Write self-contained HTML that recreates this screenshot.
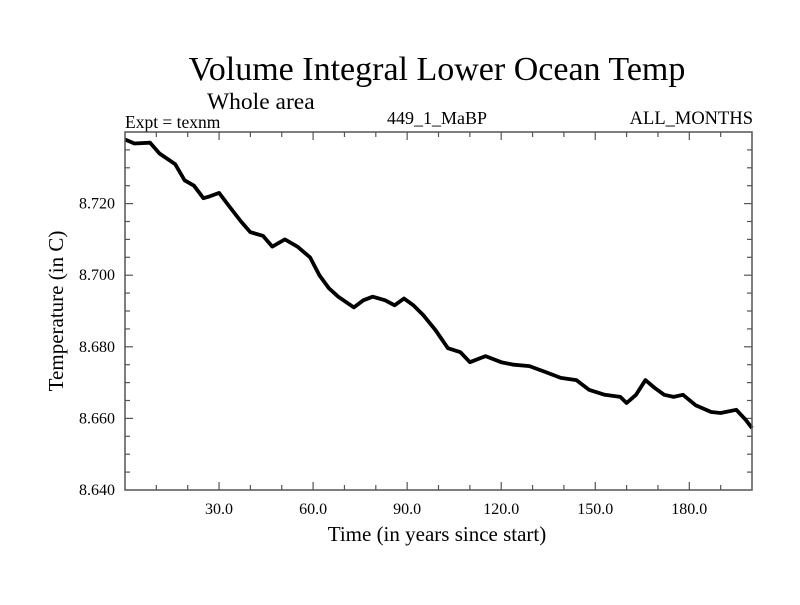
<!DOCTYPE html>
<html><head><meta charset="utf-8"><style>
body{margin:0;background:#fff}
svg text{font-family:"Liberation Serif",serif;fill:#000}
</style></head><body>
<svg id="chart" width="800" height="600">
<text x="437" y="80" font-size="34" text-anchor="middle">Volume Integral Lower Ocean Temp</text>
<text x="207" y="109" font-size="23.5">Whole area</text>
<text x="125" y="128" font-size="17.5">Expt = texnm</text>
<text x="437" y="124" font-size="18" text-anchor="middle">449_1_MaBP</text>
<text x="753" y="124" font-size="18.5" text-anchor="end">ALL_MONTHS</text>
<text x="437" y="541" font-size="21" text-anchor="middle">Time (in years since start)</text>
<text transform="translate(63,311) rotate(-90)" font-size="21" text-anchor="middle">Temperature (in C)</text>
<g id="axes"></g>
<path id="series" fill="none" stroke="#000" stroke-width="3.8" stroke-linejoin="round"/>
<rect x="125" y="132" width="627" height="358" fill="none" stroke="#555" stroke-width="1.5"/>
</svg>
<script>
const years=[0,3,8,11,16,19,22,25,27,30,33,37,40,44,47,51,55,59,62,65,68,73,76,79,83,86,89,92,95,99,103,107,110,115,120,124,129,134,139,144,148,153,158,160,163,166,169,172,175,178,182,187,190,195,198,200];
const temps=[8.7379,8.7368,8.737,8.734,8.731,8.7265,8.725,8.7215,8.722,8.723,8.7195,8.715,8.712,8.711,8.708,8.710,8.708,8.705,8.700,8.6964,8.694,8.691,8.693,8.694,8.693,8.6916,8.6935,8.6916,8.689,8.6847,8.6796,8.6785,8.6757,8.6774,8.6757,8.675,8.6746,8.673,8.6713,8.6707,8.668,8.6666,8.666,8.6643,8.6666,8.6707,8.6685,8.6666,8.666,8.6666,8.6637,8.6618,8.6615,8.6624,8.6596,8.6573];
const xTicks=[30,60,90,120,150,180];
const xTickLabels=["30.0","60.0","90.0","120.0","150.0","180.0"];
const yTicks=[8.64,8.66,8.68,8.70,8.72];
const yTickLabels=["8.640","8.660","8.680","8.700","8.720"];
const X0=125,X1=752,Y0=490,Y1=132,XMIN=0,XMAX=200,YMIN=8.64,YMAX=8.74;
const sx=v=>X0+(v-XMIN)/(XMAX-XMIN)*(X1-X0);
const sy=v=>Y0-(v-YMIN)/(YMAX-YMIN)*(Y0-Y1);
const NS="http://www.w3.org/2000/svg";
const g=document.getElementById('axes');
function mk(t,a){const e=document.createElementNS(NS,t);for(const k in a)e.setAttribute(k,a[k]);g.appendChild(e);return e;}
for(let v=10;v<200;v+=10){const x=sx(v);const major=v%30===0;
 const t=mk('line',{x1:x,x2:x,y1:Y0,y2:Y0-(major?8:5),stroke:'#555','stroke-width':1.2});
 
 
 const t2=mk('line',{x1:x,x2:x,y1:Y1,y2:Y1+(major?8:5),stroke:'#555','stroke-width':1.2});
 
 }
xTicks.forEach((v,i)=>{const e=mk('text',{x:sx(v),y:514,'font-size':16,'text-anchor':'middle'});e.textContent=xTickLabels[i];
 
 });
for(let i=1;i<20;i++){const v=YMIN+i*0.005;const y=sy(v);const major=i%4===0;
 const t=mk('line',{x1:X0,x2:X0+(major?8:5),y1:y,y2:y,stroke:'#555','stroke-width':1.2});
 
 
 const t2=mk('line',{x1:X1,x2:X1-(major?8:5),y1:y,y2:y,stroke:'#555','stroke-width':1.2});
 
 }
yTicks.forEach((v,i)=>{const e=mk('text',{x:115,y:sy(v)+5,'font-size':16,'text-anchor':'end'});e.textContent=yTickLabels[i];
 
 });
document.getElementById('series').setAttribute('d',years.map((v,i)=>(i?'L':'M')+sx(v).toFixed(1)+','+sy(temps[i]).toFixed(1)).join(''));
</script>
</body></html>
